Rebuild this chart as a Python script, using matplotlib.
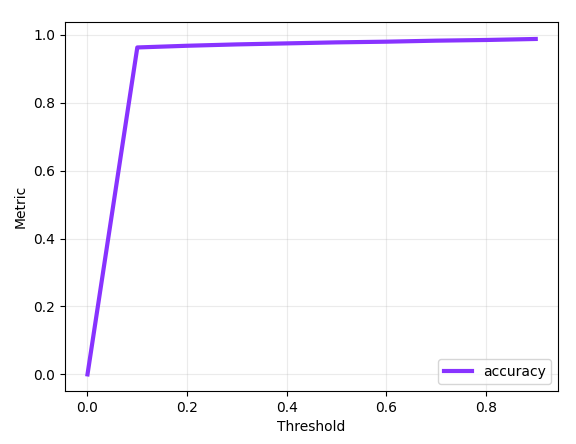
import matplotlib
matplotlib.use("Agg")
from matplotlib import pyplot as plt

# Umbrales y accuracy
thresholds = [0.0, 0.1, 0.2, 0.3, 0.4, 0.5, 0.6, 0.7, 0.8, 0.9]
accuracy = [0.0, 0.963, 0.968, 0.972, 0.975, 0.978, 0.980, 0.983, 0.985, 0.988]

fig, ax = plt.subplots(figsize=(5.76, 4.44), dpi=100)
fig.subplots_adjust(left=0.113, right=0.969, top=0.950, bottom=0.119)
ax.plot(thresholds, accuracy, color="#8833ff", linewidth=3, label="accuracy")
ax.set_xlabel("Threshold")
ax.set_ylabel("Metric")
ax.grid(True, alpha=0.25)
ax.legend(loc="lower right")
fig.savefig("out.png")
